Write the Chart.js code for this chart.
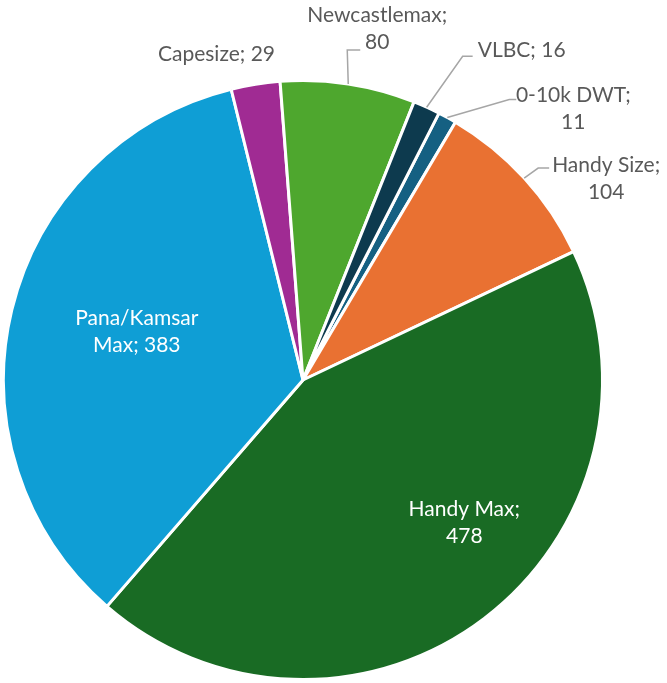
<!DOCTYPE html>
<html>
<head>
<meta charset="utf-8">
<script src="https://cdn.jsdelivr.net/npm/chart.js@4/dist/chart.umd.min.js"></script>
<style>
  html, body { margin: 0; padding: 0; background: #fff; }
  #wrap { width: 667px; height: 683px; position: relative; }
</style>
</head>
<body>
<div id="wrap"><canvas id="pieCanvas"></canvas></div>
<script>
// Fleet by segment (order as in the source sheet)
const categories = ['0-10k DWT', 'Handy Size', 'Handy Max', 'Pana/Kamsar Max', 'Capesize', 'Newcastlemax', 'VLBC'];
const counts = [11, 104, 478, 383, 29, 80, 16];
const sliceColors = ['#156082', '#e97132', '#196b24', '#0f9ed5', '#a02b93', '#4ea72e', '#0d3a4e'];

// label text lines per slice
const labelLines = [
  ['0-10k DWT;', '11'],
  ['Handy Size;', '104'],
  ['Handy Max;', '478'],
  ['Pana/Kamsar', 'Max; 383'],
  ['Capesize; 29'],
  ['Newcastlemax;', '80'],
  ['VLBC; 16'],
];

// label placement: offsets from the middle of each slice's outer edge
const labelPlacement = [
  { dx: 126, dy: -16, color: '#595959', leader: [[62, -18], [69, -18]] },
  { dx: 82, dy: -6, color: '#595959', leader: [[14, -10], [25, -10]] },
  { dx: -20, dy: -102, color: '#ffffff' },
  { dx: 125, dy: 15, color: '#ffffff' },
  { dx: -39, dy: -23, color: '#595959' },
  { dx: 29, dy: -62, color: '#595959', leader: [[-1, -34], [12, -34]] },
  { dx: 95, dy: -50, color: '#595959', leader: [[36, -51], [46, -51]] },
];

const sliceLabels = {
  id: 'sliceLabels',
  afterDatasetsDraw(chart) {
    const ctx = chart.ctx;
    const meta = chart.getDatasetMeta(0);
    ctx.save();
    ctx.font = '21px Lato';
    ctx.textAlign = 'center';
    ctx.textBaseline = 'alphabetic';
    meta.data.forEach((arc, i) => {
      const p = arc.getProps(['x', 'y', 'startAngle', 'endAngle', 'outerRadius'], true);
      const mid = (p.startAngle + p.endAngle) / 2;
      const ex = p.x + Math.cos(mid) * p.outerRadius;
      const ey = p.y + Math.sin(mid) * p.outerRadius;
      const place = labelPlacement[i];
      if (place.leader) {
        ctx.strokeStyle = '#a6a6a6';
        ctx.lineWidth = 1.5;
        ctx.beginPath();
        ctx.moveTo(ex, ey);
        place.leader.forEach(pt => ctx.lineTo(ex + pt[0], ey + pt[1]));
        ctx.stroke();
      }
      ctx.fillStyle = place.color;
      labelLines[i].forEach((line, k) => {
        ctx.fillText(line, ex + place.dx, ey + place.dy + k * 27);
      });
    });
    ctx.restore();
  }
};

new Chart(document.getElementById('pieCanvas').getContext('2d'), {
  type: 'pie',
  data: {
    labels: categories,
    datasets: [{
      data: counts,
      backgroundColor: sliceColors,
      borderColor: '#ffffff',
      borderWidth: 3,
    }],
  },
  options: {
    responsive: true,
    maintainAspectRatio: false,
    animation: false,
    rotation: 27,
    layout: { padding: { left: 2, right: 63, top: 78, bottom: 1 } },
    plugins: {
      legend: { display: false },
      tooltip: { enabled: false },
    },
  },
  plugins: [sliceLabels],
});
</script>
</body>
</html>
